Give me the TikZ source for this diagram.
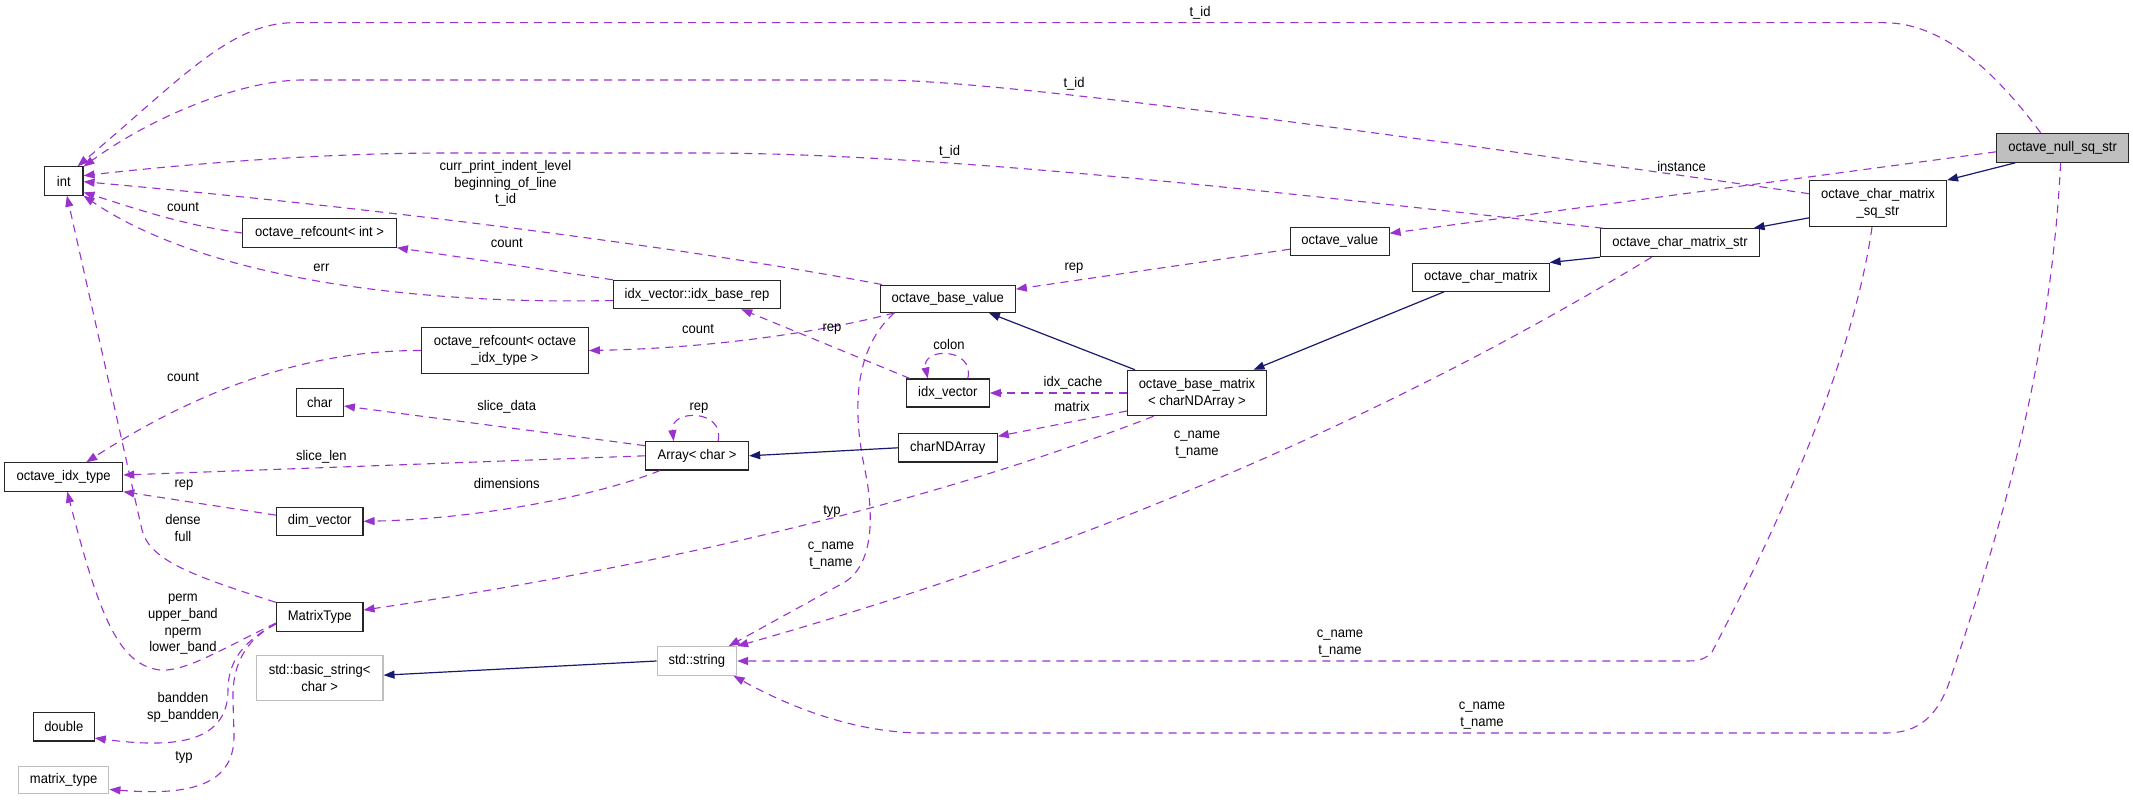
\documentclass[tikz,border=0pt]{standalone}
\usepackage{fontspec}
\setmainfont{Liberation Sans}[FakeStretch=0.93]
\usetikzlibrary{arrows.meta}
\definecolor{usec}{HTML}{9A32CD}
\definecolor{inhc}{HTML}{191970}
\definecolor{grayb}{HTML}{BFBFBF}
\newcommand\dxfont{\fontsize{14}{16.8}\selectfont}
\begin{document}
\begin{tikzpicture}[x=1pt,y=-1pt,
  box/.style={draw=black!85, line width=1.1pt, fill=white, rectangle, inner sep=0pt, align=center, font=\dxfont},
  gbox/.style={box, draw=grayb},
  usage/.style={draw=usec, line width=1.1pt, dash pattern=on 8pt off 6pt, -{Triangle[length=11pt,width=8pt]}},
  inherit/.style={draw=inhc, line width=1.2pt, -{Triangle[length=11pt,width=8pt]}},
  lbl/.style={inner sep=0pt, align=center, font=\dxfont},
]
\fill[white] (0,0) rectangle (2133,800);
\useasboundingbox (0,0) rectangle (2133,800);

% nodes
\node[box, minimum width=38.4pt, minimum height=28.3pt] (int) at (63.8,181) {int};
\node[box, minimum width=153.5pt, minimum height=28.3pt] (refint) at (319.6,233) {octave\_refcount< int >};
\node[box, minimum width=167.4pt, minimum height=28.3pt] (baserep) at (697,294.5) {idx\_vector::idx\_base\_rep};
\node[box, minimum width=167pt, minimum height=45.6pt] (refidx) at (504.9,350.5) {octave\_refcount< octave\\\_idx\_type >};
\node[box, minimum width=47pt, minimum height=28.3pt] (char) at (319.9,402.5) {char};
\node[box, minimum width=118.3pt, minimum height=28.3pt] (idxt) at (63.6,477) {octave\_idx\_type};
\node[box, minimum width=103pt, minimum height=28.3pt] (array) at (697.1,455.8) {Array< char >};
\node[box, minimum width=86.6pt, minimum height=28pt] (dimv) at (319.7,521.3) {dim\_vector};
\node[box, minimum width=86.6pt, minimum height=28.3pt] (mtype) at (319.7,617) {MatrixType};
\node[gbox, minimum width=126.8pt, minimum height=45pt] (bstr) at (319.6,678.2) {std::basic\_string<\\char >};
\node[box, minimum width=60.7pt, minimum height=28.3pt] (double) at (63.8,726.8) {double};
\node[gbox, minimum width=90.6pt, minimum height=27.3pt] (mattype) at (63.6,779.7) {matrix\_type};
\node[gbox, minimum width=79.5pt, minimum height=28.6pt] (str) at (696.8,661) {std::string};
\node[box, minimum width=135pt, minimum height=27.3pt] (obv) at (947.8,298.7) {octave\_base\_value};
\node[box, minimum width=83pt, minimum height=28pt] (idxv) at (947.8,393) {idx\_vector};
\node[box, minimum width=99pt, minimum height=28.3pt] (chnd) at (947.8,447.8) {charNDArray};
\node[box, minimum width=139pt, minimum height=45.4pt] (obm) at (1197,393) {octave\_base\_matrix\\< charNDArray >};
\node[box, minimum width=98.5pt, minimum height=28.3pt] (ov) at (1339.8,241.2) {octave\_value};
\node[box, minimum width=136.3pt, minimum height=28.3pt] (ocm) at (1480.9,277.2) {octave\_char\_matrix};
\node[box, minimum width=159.4pt, minimum height=28pt] (ocms) at (1680,242.7) {octave\_char\_matrix\_str};
\node[box, minimum width=137pt, minimum height=46pt] (ocmsq) at (1878,203.7) {octave\_char\_matrix\\\_sq\_str};
\node[box, fill=grayb, minimum width=131.8pt, minimum height=29pt] (null) at (2062.6,147.8) {octave\_null\_sq\_str};

% usage edges
\draw[usage] ([xshift=-22pt]null.north) .. controls (2005,85) and (1950,22.7) .. (1884,22.7) -- (294,22.7) .. controls (230,22.7) and (180,80) .. (int.47);
\draw[usage] ([yshift=10pt]ocmsq.west) .. controls (1400,135) and (1000,80) .. (880,80) -- (303,80) .. controls (240,80) and (150,118) .. (int.36);
\draw[usage] ([xshift=3pt]ocms.north west) .. controls (1300,195) and (950,153) .. (700,153) -- (446,153) .. controls (300,153) and (150,168) .. (int.15);
\draw[usage] ([xshift=2pt]obv.north west) .. controls (700,250) and (400,210) .. (int.-2);
\draw[usage] (refint.west) .. controls (180,225) and (125,205) .. (int.-30);
\draw[usage] ([yshift=-6pt]baserep.west) .. controls (400,305) and (200,275) .. (int.south east);
\draw[usage] (mtype.north west) .. controls (190,575) and (150,560) .. (142,530) -- (int.-78);
\draw[usage] ([yshift=-8pt]ov.west) -- (obv.8);
\draw[usage] ([yshift=-4pt]null.west) -- (ov.9);
\draw[usage] ([xshift=14.6pt]obv.south west) .. controls (858,345) and (850,400) .. (865,470) .. controls (875,520) and (872,565) .. (845,582) -- (str.25);
\draw[usage] ([xshift=-43.4pt]obm.south) .. controls (950,495) and (700,560) .. (mtype.9);
\draw[usage] (obm.west) -- (idxv.east);
\draw[usage] ([yshift=-18pt]obm.west) -- (chnd.13);
\draw[usage] ([xshift=20pt]idxv.north) .. controls (975,347) and (921,347) .. ([xshift=-20pt]idxv.north);
\draw[usage] ([xshift=4pt]idxv.north west) -- ([xshift=-40pt]baserep.south east);
\draw[usage] ([xshift=14.6pt]obv.south west) .. controls (830,330) and (720,348) .. (refidx.east);
\draw[usage] (baserep.north west) -- (refint.south east);
\draw[usage] (refidx.west) .. controls (300,350) and (190,395) .. (idxt.33);
\draw[usage] (array.169) -- ([yshift=-3.5pt]char.east);
\draw[usage] (array.west) -- ([yshift=2pt]idxt.east);
\draw[usage] ([xshift=15pt]array.south west) .. controls (600,495) and (480,519) .. (dimv.east);
\draw[usage] ([xshift=21pt]array.north) .. controls (725,408.8) and (670,408.8) .. ([xshift=-23.5pt]array.north);
\draw[usage] (dimv.172) -- (idxt.south east);
\draw[usage] ([yshift=-6pt]mtype.west) .. controls (220,650) and (185,672) .. (160,670) .. controls (120,665) and (100,620) .. (idxt.-76);
\draw[usage] ([yshift=-7pt]mtype.west) .. controls (245,640) and (228,660) .. (228,690) .. controls (228,745) and (170,748) .. (double.-20);
\draw[usage] ([yshift=-7pt]mtype.west) .. controls (245,640) and (232,665) .. (233,700) -- (234,735) .. controls (235,790) and (180,795) .. (mattype.-12);
\draw[usage] ([xshift=-28.5pt]ocms.south) .. controls (1350,440) and (1040,560) .. (str.north east);
\draw[usage] ([xshift=-6pt]ocmsq.south) .. controls (1850,380) and (1760,560) .. (1712,652) .. controls (1704,661) and (1695,661) .. (1685,661) -- (str.east);
\draw[usage] ([xshift=-2pt]null.south) .. controls (2050,380) and (1990,560) .. (1950,680) .. controls (1935,725) and (1910,733) .. (1885,733) -- (923,733) .. controls (860,733) and (795,710) .. (str.-22);

% inheritance edges
\draw[inherit] ([xshift=19pt]null.south west) -- (ocmsq.north east);
\draw[inherit] ([yshift=9.4pt]ocmsq.south west) -- ([xshift=-6.7pt]ocms.north east);
\draw[inherit] (ocms.south west) -- (ocm.north east);
\draw[inherit] ([xshift=-37pt]ocm.south) -- ([xshift=-13.5pt]obm.north east);
\draw[inherit] ([xshift=8pt]obm.north west) -- ([xshift=-27pt]obv.south east);
\draw[inherit] (chnd.west) -- (array.east);
\draw[inherit] (str.west) -- ([yshift=3pt]bstr.east);

% labels
\node[lbl] (l1) at (1200,12.7) {t\_id};
\node[lbl] (l2) at (1074,84.3) {t\_id};
\node[lbl] (l3) at (949.5,152.3) {t\_id};
\node[lbl] (l4) at (505.5,183.5) {curr\_print\_indent\_level\\beginning\_of\_line\\t\_id};
\node[lbl] (l5) at (183,207) {count};
\node[lbl] (l6) at (506.7,242.7) {count};
\node[lbl] (l7) at (321.4,267.7) {err};
\node[lbl] (l8) at (1074,267.7) {rep};
\node[lbl] (l9) at (1681.5,166.5) {instance};
\node[lbl] (l10) at (698,328.7) {count};
\node[lbl] (l11) at (832,328.7) {rep};
\node[lbl] (l12) at (949,344.7) {colon};
\node[lbl] (l13) at (183,376.7) {count};
\node[lbl] (l14) at (1073,383.3) {idx\_cache};
\node[lbl] (l15) at (1072,406.7) {matrix};
\node[lbl] (l16) at (699,408) {rep};
\node[lbl] (l17) at (506.7,406.7) {slice\_data};
\node[lbl] (l18) at (321.4,456.7) {slice\_len};
\node[lbl] (l19) at (1197,444.3) {c\_name\\t\_name};
\node[lbl] (l20) at (184,485) {rep};
\node[lbl] (l21) at (506.7,483.3) {dimensions};
\node[lbl] (l22) at (832,511.7) {typ};
\node[lbl] (l23) at (183,527.7) {dense\\full};
\node[lbl] (l24) at (831,556) {c\_name\\t\_name};
\node[lbl] (l25) at (183,624.3) {perm\\upper\_band\\nperm\\lower\_band};
\node[lbl] (l26) at (1340,643.3) {c\_name\\t\_name};
\node[lbl] (l27) at (183,707) {bandden\\sp\_bandden};
\node[lbl] (l28) at (1482,715.7) {c\_name\\t\_name};
\node[lbl] (l29) at (184,757.3) {typ};
\end{tikzpicture}
\end{document}
